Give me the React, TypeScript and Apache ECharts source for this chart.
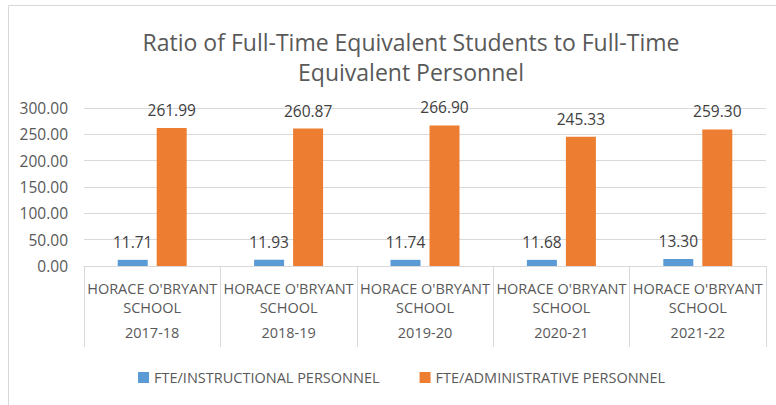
import React, { useEffect, useRef } from "react";
import * as echarts from "echarts";

const schools = [
  "HORACE O'BRYANT\nSCHOOL",
  "HORACE O'BRYANT\nSCHOOL",
  "HORACE O'BRYANT\nSCHOOL",
  "HORACE O'BRYANT\nSCHOOL",
  "HORACE O'BRYANT\nSCHOOL",
];
const years = ["2017-18", "2018-19", "2019-20", "2020-21", "2021-22"];
const instructional = [11.71, 11.93, 11.74, 11.68, 13.3];
const administrative = [261.99, 260.87, 266.9, 245.33, 259.3];
const seriesNames = ["FTE/INSTRUCTIONAL PERSONNEL", "FTE/ADMINISTRATIVE PERSONNEL"];
const titleText = "Ratio of Full-Time Equivalent Students to Full-Time\nEquivalent Personnel";

const FONT = "'Open Sans', Lato, sans-serif";

export default function App() {
  const ref = useRef<HTMLDivElement>(null);
  useEffect(() => {
    document.body.style.margin = "0";
    const chart = echarts.init(ref.current!, undefined, { renderer: "svg" });
    const label = {
      show: true,
      position: "top" as const,
      distance: 10,
      fontFamily: FONT,
      fontSize: 15.5,
      color: "#404040",
      formatter: (p: any) => Number(p.value).toFixed(2),
    };
    chart.setOption({
      animation: false,
      backgroundColor: "#ffffff",
      textStyle: { fontFamily: FONT },
      graphic: [
        {
          type: "rect",
          shape: { x: 8.5, y: 5.5, width: 800, height: 420 },
          style: { fill: "none", stroke: "#d9d9d9", lineWidth: 1 },
          silent: true,
        },
      ],
      title: {
        text: titleText,
        left: 406,
        top: 22,
        textAlign: "center",
        textStyle: {
          fontFamily: FONT,
          fontSize: 23,
          fontWeight: "normal",
          color: "#595959",
          lineHeight: 30,
        },
      },
      legend: {
        bottom: 15,
        left: 133,
        itemWidth: 11,
        itemHeight: 11,
        itemGap: 40,
        icon: "rect",
        textStyle: { fontFamily: FONT, fontSize: 14.5, color: "#595959" },
        data: seriesNames,
      },
      grid: { left: 84, right: 10, top: 108, bottom: 139, containLabel: false },
      xAxis: [
        {
          type: "category",
          data: schools,
          boundaryGap: true,
          axisLine: { lineStyle: { color: "#d9d9d9" } },
          axisTick: {
            show: true,
            length: 81,
            interval: 0,
            lineStyle: { color: "#d9d9d9" },
          },
          axisLabel: {
            interval: 0,
            margin: 13,
            fontFamily: FONT,
            fontSize: 14.5,
            lineHeight: 19,
            color: "#595959",
          },
        },
        {
          type: "category",
          data: years,
          position: "bottom",
          boundaryGap: true,
          axisLine: { show: false },
          axisTick: { show: false },
          axisLabel: {
            interval: 0,
            margin: 59,
            fontFamily: FONT,
            fontSize: 14.5,
            color: "#595959",
          },
        },
      ],
      yAxis: {
        type: "value",
        min: 0,
        max: 300,
        interval: 50,
        axisLine: { show: false },
        axisTick: { show: false },
        splitLine: { lineStyle: { color: "#d9d9d9" } },
        axisLabel: {
          margin: 16,
          fontFamily: FONT,
          fontSize: 15.5,
          color: "#595959",
          formatter: (v: number) => v.toFixed(2),
        },
      },
      series: [
        {
          name: seriesNames[0],
          type: "bar",
          data: instructional,
          barWidth: 30,
          barGap: "30%",
          itemStyle: { color: "#5B9BD5" },
          label,
        },
        {
          name: seriesNames[1],
          type: "bar",
          data: administrative,
          barWidth: 30,
          barGap: "30%",
          itemStyle: { color: "#ED7D31" },
          label,
        },
      ],
    });
    return () => chart.dispose();
  }, []);
  return <div ref={ref} style={{ width: 776, height: 405 }} />;
}
